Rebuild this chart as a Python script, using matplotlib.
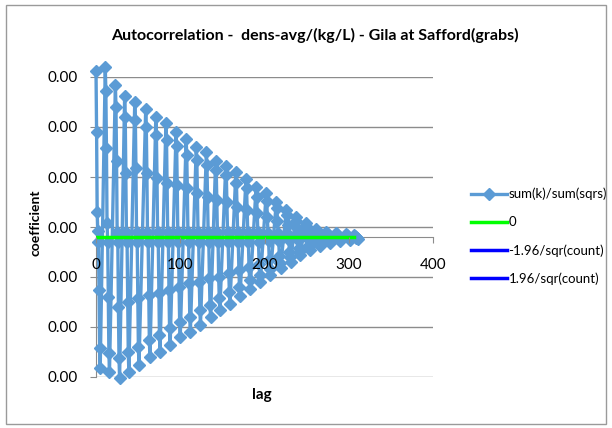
import numpy as np
import matplotlib
matplotlib.use('Agg')
import matplotlib.pyplot as plt
from matplotlib.patches import Rectangle
from matplotlib.ticker import FixedLocator, FuncFormatter

plt.rcParams['font.family'] = ['Lato', 'DejaVu Sans']

# lag of each column of points
col_lag = [0, 11, 23, 34, 46, 59, 71, 83, 95, 107, 119, 131, 142, 154, 166, 178, 190,
           202, 214, 226, 237, 249, 261, 273, 285, 297, 306]

# coefficient levels inside every column (units of 1e-3), top to bottom
top = [3.32, 3.40, 3.04, 2.82, 2.70, 2.56, 2.40, 2.28, 2.10, 1.96, 1.80, 1.70, 1.52, 1.42,
       1.30, 1.16, 1.00, 0.88, 0.70, 0.54, 0.40, 0.28, 0.16, 0.10, 0.08, 0.06, 0.04]
upper = [2.10, 2.92, 2.60, 2.40, 2.34, 2.20, 2.04, 1.94, 1.82, 1.64, 1.54, 1.44, 1.34, 1.24,
         1.08, 0.98, 0.80, 0.72, 0.58, 0.44, 0.32, 0.22, 0.12, 0.08, 0.06, 0.04, 0.02]
mid_pos = [0.50, 1.78, 1.52, 1.28, 1.38, 1.28, 1.18, 1.08, 1.04, 0.98, 0.88, 0.80, 0.74, 0.70,
           0.60, 0.54, 0.48, 0.40, 0.32, 0.24, 0.18, 0.12, 0.08, 0.04, 0.04, 0.02, 0.02]
near_pos = [0.12, 0.28, 0.10, 0.10, 0.10, 0.10, 0.10, 0.10, 0.10, 0.10, 0.10, 0.10, 0.10, 0.10,
            0.10, 0.10, 0.10, 0.08, 0.08, 0.06, 0.06, 0.04, 0.04, 0.02, 0.02, 0.01, 0.01]
near_neg = [-0.10, -0.10, -0.10, -0.10, -0.10, -0.10, -0.10, -0.10, -0.10, -0.10, -0.10, -0.10,
            -0.10, -0.10, -0.10, -0.10, -0.10, -0.08, -0.08, -0.06, -0.06, -0.04, -0.04, -0.02,
            -0.02, -0.01, -0.01]
mid_neg = [-1.06, -1.20, -1.40, -1.30, -1.22, -1.16, -1.12, -1.06, -1.00, -0.92, -0.90, -0.82,
           -0.80, -0.72, -0.66, -0.60, -0.54, -0.46, -0.38, -0.30, -0.22, -0.16, -0.10, -0.06,
           -0.04, -0.02, -0.02]
lower = [-2.22, -2.32, -2.42, -2.30, -2.20, -2.06, -1.96, -1.82, -1.70, -1.60, -1.46, -1.36,
         -1.22, -1.10, -1.00, -0.86, -0.76, -0.64, -0.52, -0.40, -0.30, -0.20, -0.14, -0.10,
         -0.06, -0.04, -0.02]
bottom = [-2.62, -2.70, -2.82, -2.70, -2.56, -2.40, -2.30, -2.16, -2.00, -1.90, -1.76, -1.60,
          -1.46, -1.34, -1.18, -1.04, -0.90, -0.76, -0.62, -0.50, -0.36, -0.26, -0.18, -0.12,
          -0.08, -0.06, -0.04]
level_offset = [0, 0.7, 1.4, 2.1, 2.9, 3.6, 4.3, 5.0]

count = 306
conf = 1.96 / np.sqrt(count)

# assemble the series column by column
levels = [top, upper, mid_pos, near_pos, near_neg, mid_neg, lower, bottom]
lag, coef = [], []
for i, L in enumerate(col_lag):
    for off, lev in zip(level_offset, levels):
        lag.append(L + off)
        coef.append(lev[i] * 1e-3)

fig = plt.figure(figsize=(6.12, 4.28), dpi=100)
ax = fig.add_axes([96 / 612, 1 - 377 / 428, 337 / 612, 300 / 428])

blue = '#5B9BD5'
ax.plot(lag, coef, color=blue, lw=2.4, marker='D', ms=6, clip_on=False, zorder=3,
        label='sum(k)/sum(sqrs)')
ax.plot([0, col_lag[-1]], [0, 0], color='#00FF00', lw=2.5, zorder=4, label='0')
ax.plot([0, col_lag[-1]], [-conf, -conf], color='#0000FF', lw=2.5, label='-1.96/sqr(count)')
ax.plot([0, col_lag[-1]], [conf, conf], color='#0000FF', lw=2.5, label='1.96/sqr(count)')

ymin, ymax = -0.0028, 0.0032
ax.set_ylim(ymin, ymax)
ax.set_xlim(0, 400)
ax.yaxis.set_major_locator(FixedLocator([ymin + k * 0.001 for k in range(7)]))
ax.yaxis.set_major_formatter(FuncFormatter(lambda v, p: '0.00'))
ax.set_xticks([0, 100, 200, 300, 400])
ax.grid(axis='y', color='#8C8C8C', lw=1)
ax.set_axisbelow(True)
ax.xaxis.set_zorder(5)  # x labels sit on top of the series, like the original

for s in ['top', 'right']:
    ax.spines[s].set_visible(False)
ax.spines['bottom'].set_position(('data', 0))
ax.spines['bottom'].set_color('#8C8C8C')
ax.spines['left'].set_color('#8C8C8C')
ax.tick_params(axis='y', length=4, color='#8C8C8C', pad=9, labelsize=11)
ax.tick_params(axis='x', length=4, color='#8C8C8C', pad=11, labelsize=11)

fig.text(315 / 612, 1 - 35 / 428, 'Autocorrelation -  dens-avg/(kg/L) - Gila at Safford(grabs)',
         ha='center', va='center', fontsize=11.5, fontweight='bold')
fig.text(36 / 612, 1 - 223 / 428, 'coefficient', rotation=90, ha='center', va='center',
         fontsize=10, fontweight='bold')
fig.text(262 / 612, 1 - 395 / 428, 'lag', ha='center', va='center',
         fontsize=11, fontweight='bold')

ax.legend(loc='upper left', bbox_to_anchor=(459 / 612, 1 - 176 / 428),
          bbox_transform=fig.transFigure, frameon=False, fontsize=9.5,
          handlelength=2.7, handletextpad=0.15, labelspacing=1.2)

fig.patches.append(Rectangle((6 / 612, 1 - 424 / 428), 600 / 612, 419 / 428,
                             transform=fig.transFigure, fill=False, ec='#9A9A9A', lw=1))

fig.savefig('out.png', dpi=100)
